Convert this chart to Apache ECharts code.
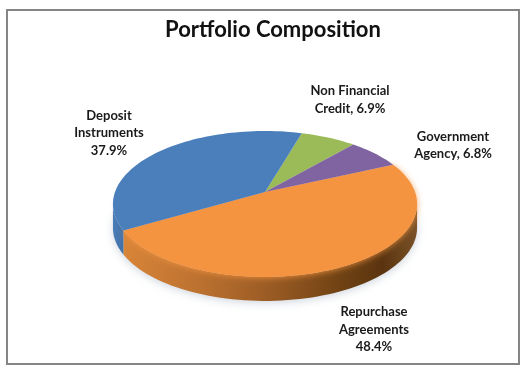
<!DOCTYPE html>
<html>
<head>
<meta charset="utf-8">
<style>html,body{margin:0;padding:0;background:#fff}#c{width:526px;height:370px}</style>
<script src="https://cdn.jsdelivr.net/npm/echarts@6/dist/echarts.min.js"></script>
</head>
<body>
<div id="c"></div>
<script>
const categories = ['Non Financial Credit', 'Government Agency', 'Repurchase Agreements', 'Deposit Instruments'];
const values = [6.9, 6.8, 48.4, 37.9];
const labelTemplates = ['Non Financial\nCredit, {v}%', 'Government\nAgency, {v}%', 'Repurchase\nAgreements\n{v}%', 'Deposit\nInstruments\n{v}%'];
const titleText = 'Portfolio Composition';

const faceColors = ['#9bbb59', '#8064a2', '#f49340', '#4b7fbc'];
const labelCenters = [[350, 100], [453, 145.5], [374, 329.5], [109, 133]];
const font = 'Lato, sans-serif';

// projected disc: rim angle -> screen point
const apex = [265, 192], Rx = 150, Ry = 71, K = 0.164, depth = 24, startDeg = -73.5;
const total = values.reduce((a, b) => a + b, 0);
const pt = (deg, dy) => {
  const t = deg * Math.PI / 180, w = 1 - K * Math.sin(t);
  return [apex[0] + Rx * Math.cos(t) / w, apex[1] + Ry * Math.sin(t) / w + (dy || 0)];
};
const arc = (a, b, dy) => {
  const out = [], n = Math.max(2, Math.ceil(Math.abs(b - a) / 2));
  for (let i = 0; i <= n; i++) out.push(pt(a + (b - a) * i / n, dy));
  return out;
};
const spans = [];
values.reduce((acc, v) => { const e = acc + v / total * 360; spans.push([acc, e]); return e; }, startDeg);
const wallFrom = Math.asin(K) * 180 / Math.PI, wallTo = 180 - wallFrom;

const G = echarts.graphic.LinearGradient;
const wallFill = i => i === 2
  ? new G(122, 0, 418, 0, [
      { offset: 0, color: '#d98539' }, { offset: 0.25, color: '#bd7230' }, { offset: 0.5, color: '#9a5b24' },
      { offset: 0.72, color: '#734414' }, { offset: 0.88, color: '#5a340f' }, { offset: 1, color: '#7a5228' }], true)
  : new G(113, 0, 130, 0, [{ offset: 0, color: '#4a7cb6' }, { offset: 1, color: '#3d6a9e' }], true);

const option = {
  animation: false,
  backgroundColor: '#fff',
  title: {
    text: titleText, left: 268, textAlign: 'center', top: 14,
    textStyle: { fontFamily: font, fontSize: 22, fontWeight: 'bold', color: '#111' }
  },
  graphic: [{
    type: 'rect', silent: true, z: -10,
    shape: { x: 7, y: 10, width: 512, height: 354 },
    style: { fill: '#fff', stroke: '#858585', lineWidth: 2 }
  }],
  series: [
    { // soft shadow under the disc
      type: 'custom', coordinateSystem: 'none', silent: true, z: 1, data: [0],
      renderItem: () => ({
        type: 'polygon',
        shape: { points: arc(0, 360, depth - 1) },
        style: { fill: '#e4e7ea', shadowBlur: 8, shadowColor: 'rgba(170,180,195,0.55)', shadowOffsetY: 3 }
      })
    },
    { // side wall
      type: 'custom', coordinateSystem: 'none', silent: true, z: 2, data: values,
      renderItem: (p) => {
        const s = spans[p.dataIndex];
        const a = Math.max(wallFrom, s[0]), b = Math.min(wallTo, s[1]);
        if (b <= a) return { type: 'group', children: [] };
        return {
          type: 'polygon',
          shape: { points: arc(a, b, 0).concat(arc(b, a, depth)) },
          style: { fill: wallFill(p.dataIndex) }
        };
      }
    },
    { // top face
      type: 'custom', coordinateSystem: 'none', silent: true, z: 3, data: values,
      renderItem: (p) => {
        const i = p.dataIndex, s = spans[i], big = i === 2;
        return {
          type: 'polygon', z2: big ? 0 : 1,
          shape: { points: [apex].concat(arc(s[0], s[1], 0)) },
          style: Object.assign({ fill: faceColors[i] },
            big ? { shadowBlur: 6, shadowColor: 'rgba(244,147,64,0.8)', shadowOffsetY: 1 } : {})
        };
      }
    },
    { // labels
      type: 'custom', coordinateSystem: 'none', silent: true, z: 4, data: values,
      renderItem: (p, api) => ({
        type: 'text',
        style: {
          text: labelTemplates[p.dataIndex].replace('{v}', api.value(0).toFixed(1)),
          x: labelCenters[p.dataIndex][0], y: labelCenters[p.dataIndex][1],
          align: 'center', verticalAlign: 'middle', lineHeight: 17.5,
          font: 'bold 13px ' + font, fill: '#1a1a1a'
        }
      })
    }
  ]
};
echarts.init(document.getElementById('c'), null, { renderer: 'canvas' }).setOption(option);
</script>
</body>
</html>
